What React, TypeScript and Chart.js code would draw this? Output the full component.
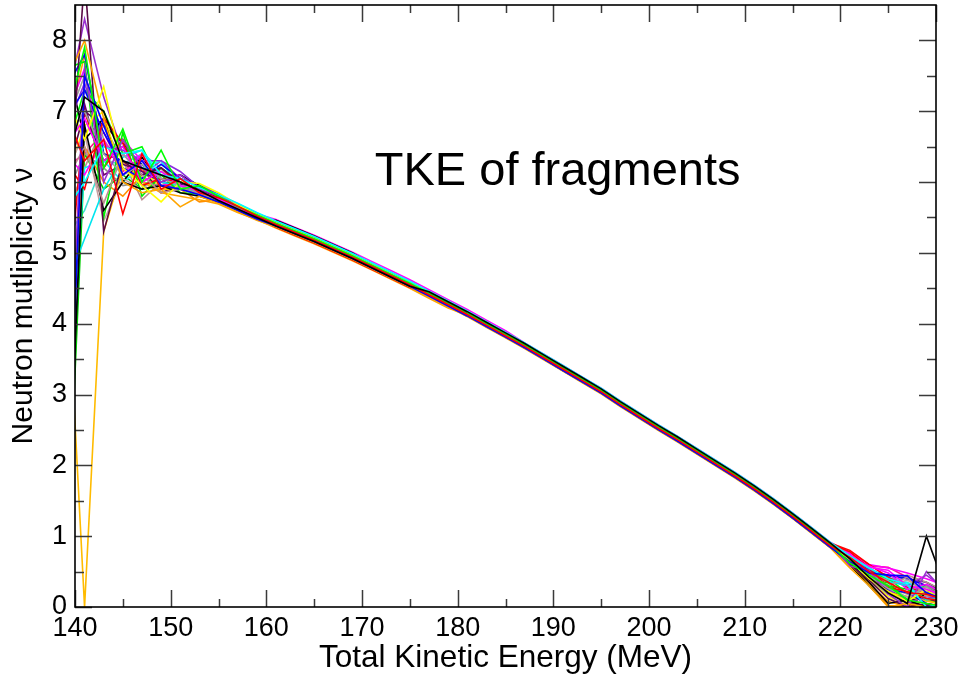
import React, { useEffect, useRef } from "react";
import { Chart, registerables } from "chart.js";

Chart.register(...registerables);

// ---- data ----
const TKE = [139,141,143,145,147,149,151,153,155,157,159,161,163,165,167,169,171,173,175,177,179,181,183,185,187,189,191,193,195,197,199,201,203,205,207,209,211,213,215,217,219,221,223,225,227,229,231];

const S00 = [6.2,7.2,7.0,6.3,6.2,6.1,6.0,5.88,5.74,5.62,5.50,
  5.38,5.27,5.16,5.04,4.92,4.79,4.66,4.53,4.45,4.31,4.17,4.02,3.87,3.72,3.56,3.40,3.24,3.08,2.90,2.73,2.56,2.40,2.23,2.06,1.89,1.71,1.52,1.32,1.11,0.90,
  0.68,0.42,0.20,0.05,1.00,0.26];
const S01 = [7.0,6.3,6.6,5.55,6.4,5.9,6.05,5.85,5.78,5.66,5.52,
  5.40,5.29,5.18,5.06,4.94,4.81,4.68,4.55,4.41,4.27,4.13,3.98,3.83,3.68,3.52,3.36,3.20,3.04,2.86,2.69,2.52,2.36,2.19,2.02,1.85,1.67,1.48,1.28,1.07,0.86,
  0.70,0.50,0.35,0.20,0.18,0.10];
const S02 = [6.8,7.9,6.2,6.75,6.0,6.45,5.9,5.95,5.80,5.65,5.54,
  5.42,5.31,5.20,5.08,4.96,4.83,4.70,4.57,4.43,4.29,4.15,4.00,3.85,3.70,3.54,3.38,3.22,3.06,2.88,2.71,2.54,2.38,2.21,2.04,1.87,1.69,1.50,1.30,1.09,0.88,
  0.62,0.45,0.30,0.10,0.05,0.00];
const S03 = [1.0,7.5,6.8,6.1,6.3,5.95,5.9,5.82,5.72,5.60,5.48,
  5.38,5.27,5.16,5.04,4.92,4.79,4.66,4.53,4.39,4.25,4.11,3.96,3.81,3.66,3.50,3.34,3.18,3.02,2.84,2.67,2.50,2.34,2.17,2.00,1.83,1.65,1.46,1.26,1.05,0.84,
  0.64,0.48,0.45,0.44,0.20,0.10];
const S04 = [5.6,6.0,6.5,6.4,6.45,6.1,6.05,5.92,5.82,5.70,5.57,
  5.45,5.34,5.23,5.11,4.99,4.86,4.73,4.60,4.46,4.32,4.18,4.03,3.88,3.73,3.57,3.41,3.25,3.09,2.91,2.74,2.57,2.41,2.24,2.07,1.90,1.72,1.53,1.33,1.12,0.91,
  0.72,0.55,0.40,0.32,0.00,0.05];
const S05 = [6.5,6.9,6.3,6.5,6.0,6.15,5.95,5.87,5.76,5.64,5.52,
  5.41,5.30,5.19,5.07,4.95,4.82,4.69,4.56,4.42,4.28,4.14,3.99,3.84,3.69,3.53,3.37,3.21,3.05,2.87,2.70,2.53,2.37,2.20,2.03,1.86,1.68,1.49,1.29,1.08,0.87,
  0.74,0.56,0.52,0.30,0.25,0.15];
const S06 = [7.2,6.6,7.35,6.2,5.95,5.72,6.0,5.98,5.85,5.68,5.55,
  5.43,5.32,5.21,5.09,4.97,4.84,4.71,4.58,4.44,4.30,4.16,4.01,3.86,3.71,3.55,3.39,3.23,3.07,2.89,2.72,2.55,2.39,2.22,2.05,1.88,1.70,1.51,1.31,1.10,0.89,
  0.66,0.40,0.22,0.08,0.25,0.05];
const S07 = [7.4,8.0,6.9,6.0,5.85,5.9,5.65,5.80,5.70,5.58,5.46,
  5.37,5.26,5.15,5.03,4.91,4.78,4.65,4.52,4.38,4.24,4.10,3.95,3.80,3.65,3.49,3.33,3.17,3.01,2.83,2.66,2.49,2.33,2.16,1.99,1.82,1.64,1.45,1.25,1.04,0.83,
  0.55,0.30,0.00,0.05,0.00,0.02];
const S08 = [2.0,7.6,6.0,6.6,6.2,6.0,6.1,5.9,5.80,5.66,5.53,
  5.42,5.31,5.20,5.08,4.96,4.83,4.70,4.57,4.43,4.29,4.15,4.00,3.85,3.70,3.54,3.38,3.22,3.06,2.88,2.71,2.54,2.38,2.21,2.04,1.87,1.69,1.50,1.30,1.09,0.88,
  0.58,0.52,0.18,0.00,0.50,0.20];
const S09 = [6.0,6.5,5.7,6.4,6.1,5.85,5.9,5.84,5.74,5.62,5.50,
  5.39,5.28,5.17,5.05,4.93,4.80,4.67,4.54,4.40,4.26,4.12,3.97,3.82,3.67,3.51,3.35,3.19,3.03,2.85,2.68,2.51,2.35,2.18,2.01,1.84,1.66,1.47,1.27,1.06,0.85,
  0.66,0.46,0.30,0.42,0.15,0.20];
const S10 = [6.6,7.0,6.4,6.1,6.25,6.05,5.95,5.86,5.76,5.64,5.52,
  5.41,5.30,5.19,5.07,4.95,4.82,4.69,4.56,4.42,4.28,4.14,3.99,3.84,3.69,3.53,3.37,3.21,3.05,2.87,2.70,2.53,2.37,2.20,2.03,1.86,1.68,1.49,1.29,1.08,0.87,
  0.64,0.44,0.26,0.14,0.28,0.10];
const S11 = [5.0,8.9,5.3,6.3,6.1,6.2,6.0,5.9,5.78,5.66,5.54,
  5.43,5.32,5.21,5.09,4.97,4.84,4.71,4.58,4.44,4.30,4.16,4.01,3.86,3.71,3.55,3.39,3.23,3.07,2.89,2.72,2.55,2.39,2.22,2.05,1.88,1.70,1.51,1.31,1.10,0.89,
  0.60,0.38,0.12,0.00,0.05,0.00];
const S12 = [0.5,6.8,5.6,6.0,5.9,5.95,5.85,5.80,5.72,5.60,5.49,
  5.44,5.33,5.22,5.10,4.98,4.85,4.72,4.59,4.39,4.25,4.11,3.96,3.81,3.66,3.50,3.34,3.18,3.02,2.84,2.67,2.50,2.34,2.17,2.00,1.83,1.65,1.46,1.26,1.05,0.84,
  0.63,0.35,0.05,0.10,0.00,0.05];
const S13 = [6.3,5.9,6.9,6.55,5.95,6.05,6.0,5.9,5.8,5.67,5.54,
  5.43,5.32,5.21,5.09,4.97,4.84,4.71,4.58,4.44,4.30,4.16,4.01,3.86,3.71,3.55,3.39,3.23,3.07,2.89,2.72,2.55,2.39,2.22,2.05,1.88,1.70,1.51,1.31,1.10,0.89,
  0.78,0.55,0.28,0.22,0.12,0.08];
const S14 = [7.6,7.7,5.5,6.7,5.8,6.1,5.85,5.83,5.74,5.61,5.50,
  5.39,5.28,5.17,5.05,4.93,4.80,4.67,4.54,4.40,4.26,4.12,3.97,3.82,3.67,3.51,3.35,3.19,3.03,2.85,2.68,2.51,2.35,2.18,2.01,1.84,1.66,1.47,1.27,1.06,0.85,
  0.70,0.40,0.34,0.10,0.20,0.12];
const S15 = [6.9,7.3,6.7,6.2,6.05,6.25,6.05,5.93,5.82,5.69,5.56,
  5.44,5.33,5.22,5.10,4.98,4.85,4.72,4.59,4.45,4.31,4.17,4.02,3.87,3.72,3.56,3.40,3.24,3.08,2.90,2.73,2.56,2.40,2.23,2.06,1.89,1.71,1.52,1.32,1.11,0.90,
  0.67,0.47,0.25,0.20,0.05,0.00];
const S16 = [4.5,5.2,5.9,6.35,6.45,6.0,5.95,5.85,5.76,5.63,5.51,
  5.40,5.29,5.18,5.06,4.94,4.81,4.68,4.55,4.41,4.27,4.13,3.98,3.83,3.68,3.52,3.36,3.20,3.04,2.86,2.69,2.52,2.36,2.19,2.02,1.85,1.67,1.48,1.28,1.07,0.86,
  0.62,0.44,0.36,0.30,0.10,0.15];
const S17 = [6.4,6.1,6.6,6.1,6.4,5.95,6.0,5.88,5.77,5.65,5.53,
  5.42,5.31,5.20,5.08,4.96,4.83,4.70,4.57,4.43,4.29,4.15,4.00,3.85,3.70,3.54,3.38,3.22,3.06,2.88,2.71,2.54,2.38,2.21,2.04,1.87,1.69,1.50,1.30,1.09,0.88,
  0.68,0.58,0.48,0.25,0.32,0.18];
const S18 = [5.2,0.0,5.3,6.2,6.0,5.9,5.9,5.84,5.74,5.62,5.50,
  5.39,5.28,5.17,5.05,4.93,4.80,4.67,4.54,4.40,4.26,4.12,3.97,3.82,3.67,3.51,3.35,3.19,3.03,2.85,2.68,2.51,2.35,2.18,2.01,1.84,1.66,1.47,1.27,1.06,0.85,
  0.64,0.42,0.20,0.15,0.08,0.04];
const S19 = [3.0,6.5,6.0,5.8,6.1,5.85,5.9,5.72,5.75,5.64,5.52,
  5.38,5.27,5.16,5.04,4.92,4.79,4.66,4.53,4.39,4.25,4.11,3.96,3.81,3.66,3.50,3.34,3.18,3.02,2.84,2.67,2.50,2.34,2.17,2.00,1.83,1.65,1.46,1.26,1.05,0.84,
  0.60,0.35,0.02,0.00,0.10,0.00];
const S20 = [6.7,7.4,6.5,6.45,6.3,6.3,6.15,5.92,5.78,5.63,5.51,
  5.41,5.30,5.19,5.07,4.95,4.82,4.69,4.56,4.42,4.28,4.14,3.99,3.84,3.69,3.53,3.37,3.21,3.05,2.87,2.70,2.53,2.37,2.20,2.03,1.86,1.68,1.49,1.29,1.08,0.87,
  0.72,0.50,0.26,0.05,0.15,0.10];
const S21 = [6.1,6.7,5.45,6.05,5.9,6.1,5.95,5.9,5.79,5.67,5.55,
  5.44,5.33,5.22,5.10,4.98,4.85,4.72,4.59,4.45,4.31,4.17,4.02,3.87,3.72,3.56,3.40,3.24,3.08,2.90,2.73,2.56,2.40,2.23,2.06,1.89,1.71,1.52,1.32,1.11,0.90,
  0.69,0.47,0.30,0.38,0.22,0.12];
const S22 = [5.8,6.4,6.2,5.95,6.0,5.95,5.92,5.84,5.73,5.61,5.49,
  5.38,5.27,5.16,5.04,4.92,4.79,4.66,4.53,4.39,4.25,4.11,3.96,3.81,3.66,3.50,3.34,3.18,3.02,2.84,2.67,2.50,2.34,2.17,2.00,1.83,1.65,1.46,1.26,1.05,0.84,
  0.61,0.40,0.18,0.12,0.30,0.14];
const S23 = [1.5,7.1,6.1,6.25,6.15,6.0,5.97,5.87,5.77,5.65,5.53,
  5.42,5.31,5.20,5.08,4.96,4.83,4.70,4.57,4.43,4.29,4.15,4.00,3.85,3.70,3.54,3.38,3.22,3.06,2.88,2.71,2.54,2.38,2.21,2.04,1.87,1.69,1.50,1.30,1.09,0.88,
  0.66,0.44,0.22,0.06,0.02,0.00];
const S24 = [7.8,6.6,6.9,6.0,6.35,6.0,6.1,5.95,5.79,5.63,5.49,
  5.46,5.35,5.24,5.12,5.00,4.84,4.71,4.58,4.44,4.30,4.16,4.01,3.86,3.71,3.55,3.36,3.20,3.04,2.86,2.69,2.52,2.36,2.19,2.02,1.85,1.67,1.48,1.28,1.07,0.86,
  0.60,0.30,0.02,0.00,0.20,0.30];
const S25 = [4.0,7.0,6.2,6.6,6.15,6.2,5.95,5.84,5.77,5.60,5.50,
  5.36,5.25,5.14,5.02,4.90,4.77,4.64,4.51,4.42,4.28,4.14,3.99,3.84,3.69,3.53,3.37,3.21,3.05,2.87,2.70,2.56,2.40,2.23,2.06,1.89,1.71,1.52,1.32,1.11,0.90,
  0.80,0.60,0.42,0.28,0.20,0.12];
const S26 = [6.4,7.3,7.0,6.4,6.5,5.95,6.0,5.9,5.79,5.66,5.53,
  5.43,5.32,5.21,5.09,4.97,4.84,4.71,4.58,4.44,4.30,4.16,4.01,3.86,3.71,3.55,3.39,3.23,3.07,2.89,2.72,2.55,2.39,2.22,2.05,1.88,1.70,1.51,1.31,1.10,0.89,
  0.66,0.50,0.40,0.20,0.30,0.20];
const S27 = [7.3,7.8,6.4,6.3,6.2,6.05,5.98,5.86,5.75,5.62,5.51,
  5.39,5.28,5.17,5.05,4.93,4.80,4.67,4.54,4.40,4.26,4.12,3.97,3.82,3.67,3.51,3.38,3.22,3.06,2.88,2.71,2.54,2.38,2.21,2.04,1.87,1.69,1.50,1.30,1.09,0.88,
  0.68,0.52,0.44,0.40,0.30,0.10];
const S28 = [2.5,6.2,6.3,6.0,6.2,6.3,5.9,5.88,5.78,5.66,5.55,
  5.44,5.33,5.22,5.10,4.98,4.85,4.72,4.59,4.45,4.31,4.17,4.02,3.87,3.72,3.56,3.40,3.24,3.08,2.90,2.73,2.52,2.36,2.19,2.02,1.85,1.67,1.48,1.28,1.07,0.86,
  0.63,0.46,0.42,0.34,0.28,0.20];
const S29 = [6.9,7.6,6.2,6.6,6.3,6.1,6.1,5.92,5.80,5.67,5.55,
  5.47,5.36,5.25,5.13,5.01,4.88,4.75,4.62,4.48,4.34,4.20,4.05,3.90,3.73,3.57,3.41,3.25,3.09,2.91,2.74,2.57,2.41,2.24,2.07,1.90,1.72,1.53,1.33,1.12,0.91,
  0.76,0.60,0.55,0.48,0.40,0.30];
const S30 = [6.0,6.8,7.0,6.0,6.2,5.9,5.95,5.83,5.73,5.61,5.49,
  5.40,5.29,5.18,5.06,4.94,4.81,4.68,4.55,4.41,4.27,4.13,3.98,3.83,3.68,3.52,3.36,3.20,3.04,2.86,2.69,2.52,2.36,2.19,2.02,1.85,1.67,1.48,1.28,1.07,0.86,
  0.62,0.38,0.15,0.02,0.18,0.10];
const S31 = [6.6,7.8,6.4,6.3,6.0,5.85,5.8,5.75,5.69,5.57,5.47,
  5.35,5.24,5.13,5.01,4.89,4.76,4.63,4.50,4.36,4.22,4.12,3.97,3.82,3.67,3.51,3.35,3.19,3.03,2.85,2.68,2.51,2.35,2.18,2.01,1.84,1.66,1.47,1.27,1.06,0.85,
  0.58,0.32,0.08,0.00,0.04,0.00];
const S32 = [7.0,8.3,7.2,6.4,6.1,6.3,6.05,5.96,5.83,5.69,5.56,
  5.43,5.32,5.21,5.09,4.97,4.84,4.71,4.58,4.44,4.30,4.16,4.01,3.86,3.71,3.55,3.39,3.23,3.07,2.89,2.72,2.55,2.39,2.22,2.05,1.88,1.70,1.51,1.31,1.10,0.89,
  0.70,0.55,0.40,0.30,0.45,0.25];
const S33 = [5.5,6.2,6.8,6.3,5.75,6.0,5.9,5.86,5.76,5.64,5.52,
  5.41,5.30,5.19,5.07,4.95,4.82,4.69,4.56,4.42,4.28,4.14,3.99,3.84,3.69,3.53,3.37,3.21,3.05,2.87,2.70,2.53,2.37,2.20,2.03,1.86,1.68,1.49,1.29,1.08,0.87,
  0.65,0.50,0.38,0.45,0.35,0.22];
const S34 = [6.8,7.5,6.6,6.2,6.0,6.15,6.0,5.89,5.78,5.66,5.54,
  5.42,5.31,5.20,5.08,4.96,4.83,4.70,4.57,4.43,4.29,4.15,4.00,3.85,3.70,3.54,3.38,3.22,3.06,2.88,2.71,2.54,2.38,2.21,2.04,1.87,1.69,1.50,1.30,1.09,0.88,
  0.67,0.48,0.28,0.18,0.22,0.15];
const S35 = [6.0,7.0,6.8,6.55,6.2,5.85,5.95,5.9,5.75,5.62,5.51,
  5.40,5.29,5.18,5.06,4.94,4.81,4.68,4.55,4.41,4.27,4.13,3.98,3.83,3.68,3.52,3.36,3.20,3.04,2.86,2.69,2.52,2.36,2.19,2.02,1.85,1.67,1.48,1.28,1.07,0.86,
  0.64,0.42,0.25,0.10,0.12,0.05];
const S36 = [0.2,6.4,5.9,6.1,5.9,6.2,6.0,5.86,5.74,5.63,5.51,
  5.38,5.27,5.16,5.04,4.92,4.79,4.66,4.53,4.39,4.25,4.11,3.96,3.81,3.66,3.50,3.34,3.18,3.02,2.84,2.67,2.50,2.34,2.17,2.00,1.83,1.65,1.46,1.26,1.05,0.84,
  0.62,0.42,0.30,0.25,0.10,0.05];
const S37 = [0.0,7.0,6.3,6.5,6.25,6.0,5.95,5.87,5.76,5.64,5.52,
  5.41,5.30,5.19,5.07,4.95,4.82,4.69,4.56,4.42,4.28,4.14,3.99,3.84,3.69,3.53,3.37,3.21,3.05,2.87,2.70,2.53,2.37,2.20,2.03,1.86,1.68,1.49,1.29,1.08,0.87,
  0.68,0.50,0.45,0.40,0.35,0.20];
const S38 = [6.2,6.4,6.7,6.15,6.35,6.05,6.0,5.9,5.8,5.67,5.54,
  5.43,5.32,5.21,5.09,4.97,4.84,4.71,4.58,4.44,4.30,4.16,4.01,3.86,3.71,3.55,3.39,3.23,3.07,2.89,2.72,2.55,2.39,2.22,2.05,1.88,1.70,1.51,1.31,1.10,0.89,
  0.74,0.58,0.56,0.42,0.30,0.22];
const S39 = [5.2,5.6,6.3,6.25,6.4,6.2,5.9,5.87,5.77,5.65,5.53,
  5.42,5.31,5.20,5.08,4.96,4.83,4.70,4.57,4.43,4.29,4.15,4.00,3.85,3.70,3.54,3.38,3.22,3.06,2.88,2.71,2.54,2.38,2.21,2.04,1.87,1.69,1.50,1.30,1.09,0.88,
  0.70,0.52,0.38,0.35,0.15,0.10];

const SERIES = [S00,S01,S02,S03,S04,S05,S06,S07,S08,S09,S10,S11,S12,S13,S14,S15,S16,S17,S18,S19,
  S20,S21,S22,S23,S24,S25,S26,S27,S28,S29,S30,S31,S32,S33,S34,S35,S36,S37,S38,S39];
const SERIES_COLORS = [
  "#000000","#ff0000","#00ff00","#0000ff","#00ffff","#ff00ff","#ffff00","#ffa500",
  "#9b30d0","#bc8f8f","#a0a0a0","#5a0a46","#000000","#ff0000","#00ee00","#0000ff",
  "#00e5ee","#ff00ff","#ffbb00","#ff9000","#8a2be2","#c8a0a0","#909090","#6a006a",
  "#000000","#ff0000","#00ff00","#0000ff","#00ffff","#ff00ff","#ffff00","#ffa500",
  "#9b30d0","#bc8f8f","#a0a0a0","#5a0a46","#00cc00","#000080","#ff1493","#40e0d0",
];

const X_MAJOR = [140,150,160,170,180,190,200,210,220,230];
const X_MINOR = [145,155,165,175,185,195,205,215,225];
const Y_MAJOR = [0,1,2,3,4,5,6,7,8];
const Y_MINOR = [0.5,1.5,2.5,3.5,4.5,5.5,6.5,7.5];

const X_TITLE = "Total Kinetic Energy (MeV)";
const Y_TITLE = "Neutron mutliplicity \u03bd";
const PLOT_TEXT = "TKE of fragments";
const PLOT_TEXT_AT = { x: 190.45, y: 5.96 };

const FONT = '"Liberation Sans", Arial, Helvetica, sans-serif';

const frameTicks = {
  id: "frameTicks",
  afterDatasetsDraw(chart: any) {
    const { ctx, chartArea: a, scales } = chart;
    const xs = scales.x, ys = scales.y;
    ctx.save();
    ctx.strokeStyle = "#3a3a3a";
    ctx.lineWidth = 1.5;
    ctx.beginPath();
    const xt = (vals: number[], len: number) => {
      for (const v of vals) {
        const px = Math.round(xs.getPixelForValue(v)) + 0.5;
        ctx.moveTo(px, a.bottom); ctx.lineTo(px, a.bottom - len);
        ctx.moveTo(px, a.top); ctx.lineTo(px, a.top + len);
      }
    };
    const yt = (vals: number[], len: number) => {
      for (const v of vals) {
        const py = Math.round(ys.getPixelForValue(v)) + 0.5;
        ctx.moveTo(a.left, py); ctx.lineTo(a.left + len, py);
        ctx.moveTo(a.right, py); ctx.lineTo(a.right - len, py);
      }
    };
    xt(X_MAJOR, 17); xt(X_MINOR, 8);
    yt(Y_MAJOR, 17); yt(Y_MINOR, 9);
    ctx.stroke();
    ctx.strokeStyle = "#000";
    ctx.lineWidth = 1.6;
    ctx.strokeRect(a.left, a.top, a.right - a.left, a.bottom - a.top);
    ctx.fillStyle = "#000";
    ctx.font = "47px " + FONT;
    ctx.textAlign = "center";
    ctx.textBaseline = "alphabetic";
    ctx.fillText(PLOT_TEXT, xs.getPixelForValue(PLOT_TEXT_AT.x), ys.getPixelForValue(PLOT_TEXT_AT.y));
    ctx.restore();
  },
};

export default function App() {
  const ref = useRef<HTMLCanvasElement | null>(null);
  useEffect(() => {
    if (!ref.current) return;
    const datasets = SERIES.map((s, i) => ({
      label: "run " + (i + 1),
      data: TKE.map((x, j) => ({ x, y: s[j] })),
      borderColor: SERIES_COLORS[i],
      backgroundColor: SERIES_COLORS[i],
      borderWidth: 1.6,
      pointRadius: 0,
      tension: 0,
      fill: false,
    }));
    const chart = new Chart(ref.current, {
      type: "line",
      data: { datasets },
      plugins: [frameTicks],
      options: {
        responsive: false,
        animation: false,
        layout: { padding: { top: 5, right: 25, bottom: 0, left: 0 } },
        plugins: { legend: { display: false }, tooltip: { enabled: false }, title: { display: false } },
        scales: {
          x: {
            type: "linear",
            min: 140,
            max: 230,
            afterBuildTicks: (s: any) => { s.ticks = X_MAJOR.map((v) => ({ value: v })); },
            afterFit: (s: any) => { s.height = 71; s.paddingLeft = 0; s.paddingRight = 0; },
            grid: { display: false, drawTicks: false },
            border: { display: false },
            ticks: { color: "#000", font: { family: FONT, size: 27 }, padding: 5, maxRotation: 0, autoSkip: false },
            title: { display: true, text: X_TITLE, color: "#000", font: { family: FONT, size: 31.5 }, padding: { top: 0, bottom: 1 } },
          },
          y: {
            type: "linear",
            min: 0,
            max: 8.5,
            afterBuildTicks: (s: any) => { s.ticks = Y_MAJOR.map((v) => ({ value: v })); },
            afterFit: (s: any) => { s.width = 75; s.paddingTop = 0; s.paddingBottom = 0; },
            grid: { display: false, drawTicks: false },
            border: { display: false },
            ticks: { color: "#000", font: { family: FONT, size: 27 }, padding: 8, autoSkip: false },
            title: { display: true, text: Y_TITLE, color: "#000", font: { family: FONT, size: 30 }, padding: { top: 6, bottom: 0 } },
          },
        },
      },
    } as any);
    return () => chart.destroy();
  }, []);
  return (
    <div style={{ position: "fixed", left: 0, top: 0, width: 961, height: 678, background: "#fff" }}>
      <canvas ref={ref} width={961} height={678} style={{ display: "block" }} />
    </div>
  );
}
